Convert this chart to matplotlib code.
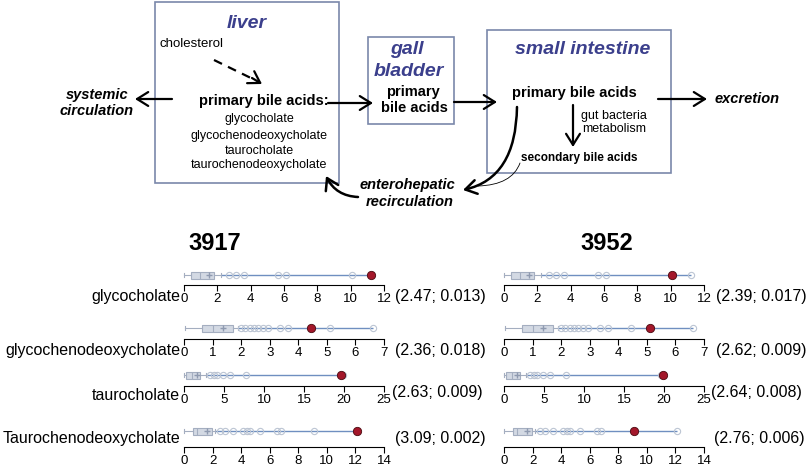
import numpy as np
import matplotlib
matplotlib.use("Agg")
import matplotlib.pyplot as plt
from matplotlib.patches import Rectangle, FancyArrowPatch
from matplotlib.path import Path

plt.rcParams["font.family"] = ["Liberation Sans", "DejaVu Sans"]

W, H = 807, 467

# data
acids = ["glycocholate", "glycochenodeoxycholate", "taurocholate", "Taurochenodeoxycholate"]
axis_max = [12, 7, 25, 14]
tick_step = [2, 1, 5, 2]

# reference population box stats (same for both patients)
whislo = [0.02, 0.02, 0.02, 0.02]
q1 = [0.40, 0.64, 0.25, 0.60]
med = [0.98, 1.00, 0.96, 0.93]
mean = [1.49, 1.37, 1.60, 1.63]
q3 = [1.82, 1.72, 2.00, 1.94]
whishi = [2.20, 1.90, 2.80, 2.17]
fliers_glycocholate = [2.7, 3.1, 3.6, 5.65, 6.1]
fliers_glycocheno = [2.0, 2.15, 2.3, 2.45, 2.6, 2.75, 2.95, 3.36, 3.64, 6.6]
fliers_taurocholate = [3.25, 3.7, 4.1, 4.9, 5.75, 7.8]
fliers_tauroCheno = [2.5, 2.9, 3.4, 4.15, 4.4, 4.6, 5.3, 6.5, 6.8]
pop_fliers = [fliers_glycocholate, fliers_glycocheno, fliers_taurocholate, fliers_tauroCheno]

patients = ["3917", "3952"]
values_3917 = [11.2, 4.43, 19.6, 12.1]
values_3952 = [10.1, 5.1, 19.9, 9.1]
stats_3917 = ["(2.47; 0.013)", "(2.36; 0.018)", "(2.63; 0.009)", "(3.09; 0.002)"]
stats_3952 = ["(2.39; 0.017)", "(2.62; 0.009)", "(2.64; 0.008)", "(2.76; 0.006)"]

fig = plt.figure(figsize=(W / 100, H / 100), dpi=100)
bg = fig.add_axes([0, 0, 1, 1])
bg.set_xlim(0, W)
bg.set_ylim(H, 0)
bg.axis("off")

blue = "#3b3f8c"
frame = "#7a88aa"


def arrow(p0, p1, lw=1.6, ctrl=None):
    if ctrl is None:
        path = Path([p0, p1], [Path.MOVETO, Path.LINETO])
    else:
        path = Path([p0, ctrl, p1], [Path.MOVETO, Path.CURVE3, Path.CURVE3])
    a = FancyArrowPatch(path=path, arrowstyle="->,head_length=0.8,head_width=0.5",
                        lw=lw, color="black", mutation_scale=10, transform=bg.transData)
    bg.add_patch(a)


# boxes
for x0, y0, x1, y1 in [(155, 2, 339, 183), (368, 37, 454, 124), (487, 30, 671, 173)]:
    bg.add_patch(Rectangle((x0, y0), x1 - x0, y1 - y0, fill=False, ec=frame, lw=1.2))

bg.text(247, 23, "liver", color=blue, fontsize=14, fontweight="bold", style="italic", ha="center", va="center")
bg.text(160, 44, "cholesterol", fontsize=9.5, ha="left", va="center")
bg.plot([214, 255], [60, 80], color="black", lw=1.6, ls=(0, (4, 3)))
arrow((252, 78), (262, 84))
bg.text(264, 101, "primary bile acids:", fontsize=10.5, fontweight="bold", ha="center", va="center")
for yy, t in zip([119, 136, 151, 165], ["glycocholate", "glycochenodeoxycholate", "taurocholate", "taurochenodeoxycholate"]):
    bg.text(259, yy, t, fontsize=9, ha="center", va="center")

bg.text(97, 95, "systemic", fontsize=10.5, fontweight="bold", style="italic", ha="center", va="center")
bg.text(97, 111, "circulation", fontsize=10.5, fontweight="bold", style="italic", ha="center", va="center")
arrow((172, 99), (135, 99))
arrow((328, 103), (373, 103))

bg.text(407, 50, "gall", color=blue, fontsize=14, fontweight="bold", style="italic", ha="center", va="center")
bg.text(409, 71, "bladder", color=blue, fontsize=14, fontweight="bold", style="italic", ha="center", va="center")
bg.text(413, 92, "primary", fontsize=10.5, fontweight="bold", ha="center", va="center")
bg.text(414, 108, "bile acids", fontsize=10.5, fontweight="bold", ha="center", va="center")
arrow((454, 102), (497, 102))

bg.text(583, 50, "small intestine", color=blue, fontsize=14, fontweight="bold", style="italic", ha="center", va="center")
bg.text(574, 93, "primary bile acids", fontsize=10.5, fontweight="bold", ha="center", va="center")
arrow((573, 105), (573, 147))
bg.text(581, 116, "gut bacteria", fontsize=9, ha="left", va="center")
bg.text(582, 129, "metabolism", fontsize=9, ha="left", va="center")
bg.text(579, 158, "secondary bile acids", fontsize=8.5, fontweight="bold", ha="center", va="center")
arrow((658, 99), (707, 99))
bg.text(715, 99, "excretion", fontsize=10.5, fontweight="bold", style="italic", ha="left", va="center")

arrow((517, 107), (463, 190), lw=1.8, ctrl=(516, 178))
bg.add_patch(FancyArrowPatch(path=Path([(520, 163), (512, 185), (478, 186)],
                                       [Path.MOVETO, Path.CURVE3, Path.CURVE3]),
                             arrowstyle="-", lw=0.6, color="black", transform=bg.transData))
bg.text(407, 185, "enterohepatic", fontsize=10.5, fontweight="bold", style="italic", ha="center", va="center")
bg.text(410, 202, "recirculation", fontsize=10.5, fontweight="bold", style="italic", ha="center", va="center")
arrow((358, 197), (326, 176), lw=1.8, ctrl=(336, 196))

# bottom box plots
box_y = [275, 328, 375, 431]
axis_y = [285, 339, 386, 447]
label_y = [296, 350, 396, 439]
stats_dy = [0, 0, -3, 0]
panel_left = [184, 504]
panel_w = 200
row_h = 30

bg.text(215, 243, patients[0], fontsize=17, fontweight="bold", ha="center", va="center")
bg.text(607, 243, patients[1], fontsize=17, fontweight="bold", ha="center", va="center")

own = [values_3917, values_3952]
other = [values_3952, values_3917]
stats_txt = [stats_3917, stats_3952]
stats_x = [[395, 395, 392, 395], [716, 716, 711, 714]]

for p in range(2):
    for i in range(4):
        ax = fig.add_axes([panel_left[p] / W, 1 - axis_y[i] / H, panel_w / W, row_h / H])
        yb = (axis_y[i] - box_y[i]) / row_h
        fl = pop_fliers[i] + [other[p][i]]
        st = dict(med=med[i], q1=q1[i], q3=q3[i], whislo=whislo[i], whishi=whishi[i],
                  mean=mean[i], fliers=fl)
        ax.hlines(yb, whishi[i], max(fl + [own[p][i]]), color="#6f8fc0", lw=1.0, zorder=1)
        art = ax.bxp([st], positions=[yb], widths=7 / row_h, orientation="horizontal",
                     patch_artist=True, showmeans=True, manage_ticks=False,
                     boxprops=dict(facecolor="#d3d9e3", edgecolor="#a4aec0", lw=0.8),
                     whiskerprops=dict(color="#a4aec0", lw=0.8),
                     capprops=dict(color="#a4aec0", lw=0.8),
                     medianprops=dict(color="#a4aec0", lw=0.8),
                     meanprops=dict(marker="+", markeredgecolor="#8f9ab0", markersize=4),
                     flierprops=dict(marker="o", markerfacecolor="none",
                                     markeredgecolor="#bcc5d3", markersize=4.5, markeredgewidth=0.8))
        ax.plot(own[p][i], yb, "o", color="#a3172a", mec="#4a0a10", ms=6, mew=0.6,
                zorder=5, clip_on=False)
        for group in art.values():
            for a in group:
                a.set_clip_on(False)
        ax.set_xlim(0, axis_max[i])
        ax.set_ylim(0, 1)
        ax.set_xticks(np.arange(0, axis_max[i] + 0.01, tick_step[i]))
        ax.set_yticks([])
        for s in ["top", "left", "right"]:
            ax.spines[s].set_visible(False)
        ax.spines["bottom"].set_linewidth(0.8)
        ax.tick_params(axis="x", direction="out", length=4.5, width=0.8, labelsize=9.5, pad=1)
        ax.patch.set_alpha(0)
        bg.text(stats_x[p][i], label_y[i] + stats_dy[i], stats_txt[p][i], fontsize=11.5,
                ha="left", va="center")

for i in range(4):
    bg.text(180, label_y[i], acids[i], fontsize=11.5, ha="right", va="center")

fig.savefig("out.png", dpi=100)
